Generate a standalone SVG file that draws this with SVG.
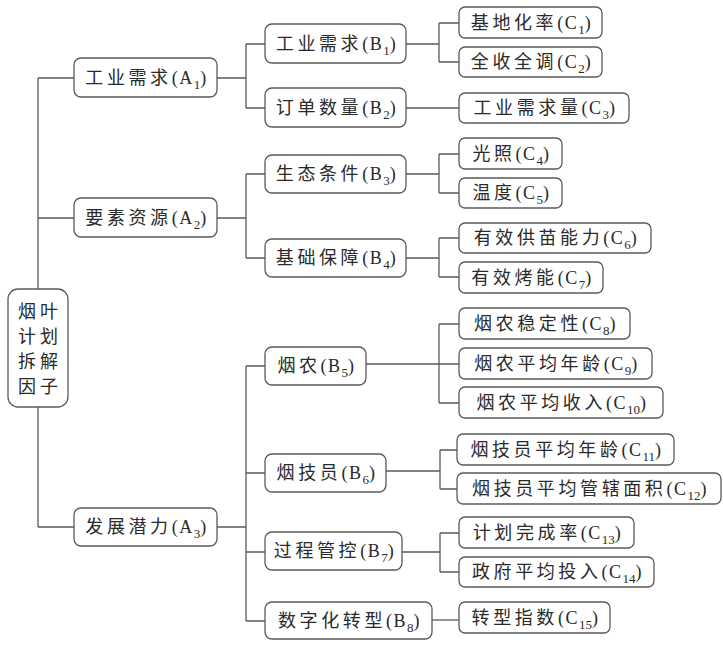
<svg xmlns="http://www.w3.org/2000/svg" width="723" height="645" viewBox="0 0 723 645">
<style>
.box{fill:#fff;stroke:#5a5a5a;stroke-width:1.3}
.ln{fill:none;stroke:#5a5a5a;stroke-width:1.3}
text{font-family:"Liberation Serif","Noto Sans CJK SC",serif;font-size:18px;fill:#2a2a2a;letter-spacing:1.5px;text-anchor:middle}
.c{letter-spacing:3.6px}
.sub{font-size:13px;letter-spacing:0}
.root{letter-spacing:0}
</style>
<rect width="723" height="645" fill="#fff"/>
<g id="connectors">
<path class="ln" d="M38,78V527M38,78H74M38,218H74M38,527H74"/>
<path class="ln" d="M217,78H246M246,44V108M246,44H265M246,108H265"/>
<path class="ln" d="M217,218H246M246,174V258M246,174H265M246,258H265"/>
<path class="ln" d="M217,527H246M246,366V621M246,366H265M246,473H265M246,552H265M246,621H265"/>
<path class="ln" d="M406,44H439M439,23V62M439,23H459M439,62H459"/>
<path class="ln" d="M406,108H459"/>
<path class="ln" d="M406,174H439M439,154V193M439,154H459M439,193H459"/>
<path class="ln" d="M406,258H439M439,238V277M439,238H459M439,277H459"/>
<path class="ln" d="M366,364H459M439,324V403M439,324H459M439,403H459"/>
<path class="ln" d="M386,471H440M440,450V489M440,450H457M440,489H457"/>
<path class="ln" d="M402,552H440M440,533V572M440,533H459M440,572H459"/>
<path class="ln" d="M432,620H459"/>
</g>
<g id="root"><rect class="box" x="8" y="289" width="60" height="118" rx="10"/>
<text class="root" x="27" y="318">烟</text><text class="root" x="49" y="318">叶</text>
<text class="root" x="27" y="343">计</text><text class="root" x="49" y="343">划</text>
<text class="root" x="27" y="368">拆</text><text class="root" x="49" y="368">解</text>
<text class="root" x="27" y="393">因</text><text class="root" x="49" y="393">子</text></g>
<g id="A1"><rect class="box" x="74" y="58" width="143" height="39" rx="7"/><text x="146.5" y="84"><tspan class="c">工业需求</tspan>(A<tspan class="sub" dy="5">1</tspan><tspan dy="-5">)</tspan></text></g>
<g id="A2"><rect class="box" x="74" y="198" width="143" height="39" rx="7"/><text x="146.5" y="224"><tspan class="c">要素资源</tspan>(A<tspan class="sub" dy="5">2</tspan><tspan dy="-5">)</tspan></text></g>
<g id="A3"><rect class="box" x="74" y="508" width="143" height="38" rx="7"/><text x="146.5" y="533"><tspan class="c">发展潜力</tspan>(A<tspan class="sub" dy="5">3</tspan><tspan dy="-5">)</tspan></text></g>
<g id="B1"><rect class="box" x="265" y="24" width="141" height="39" rx="7"/><text x="336.5" y="50"><tspan class="c">工业需求</tspan>(B<tspan class="sub" dy="5">1</tspan><tspan dy="-5">)</tspan></text></g>
<g id="B2"><rect class="box" x="265" y="88" width="141" height="39" rx="7"/><text x="336.5" y="114"><tspan class="c">订单数量</tspan>(B<tspan class="sub" dy="5">2</tspan><tspan dy="-5">)</tspan></text></g>
<g id="B3"><rect class="box" x="265" y="155" width="141" height="38" rx="7"/><text x="336.5" y="180"><tspan class="c">生态条件</tspan>(B<tspan class="sub" dy="5">3</tspan><tspan dy="-5">)</tspan></text></g>
<g id="B4"><rect class="box" x="265" y="239" width="141" height="38" rx="7"/><text x="336.5" y="264"><tspan class="c">基础保障</tspan>(B<tspan class="sub" dy="5">4</tspan><tspan dy="-5">)</tspan></text></g>
<g id="B5"><rect class="box" x="265" y="347" width="101" height="38" rx="7"/><text x="316.5" y="372"><tspan class="c">烟农</tspan>(B<tspan class="sub" dy="5">5</tspan><tspan dy="-5">)</tspan></text></g>
<g id="B6"><rect class="box" x="265" y="454" width="121" height="38" rx="7"/><text x="326.5" y="479"><tspan class="c">烟技员</tspan>(B<tspan class="sub" dy="5">6</tspan><tspan dy="-5">)</tspan></text></g>
<g id="B7"><rect class="box" x="265" y="532" width="137" height="38" rx="7"/><text x="334.5" y="557"><tspan class="c">过程管控</tspan>(B<tspan class="sub" dy="5">7</tspan><tspan dy="-5">)</tspan></text></g>
<g id="B8"><rect class="box" x="265" y="602" width="167" height="37" rx="7"/><text x="349.5" y="627"><tspan class="c">数字化转型</tspan>(B<tspan class="sub" dy="5">8</tspan><tspan dy="-5">)</tspan></text></g>
<g id="C1"><rect class="box" x="459" y="7" width="143" height="31" rx="6"/><text x="531.5" y="29"><tspan class="c">基地化率</tspan>(C<tspan class="sub" dy="5">1</tspan><tspan dy="-5">)</tspan></text></g>
<g id="C2"><rect class="box" x="459" y="47" width="143" height="30" rx="6"/><text x="531.5" y="68"><tspan class="c">全收全调</tspan>(C<tspan class="sub" dy="5">2</tspan><tspan dy="-5">)</tspan></text></g>
<g id="C3"><rect class="box" x="459" y="93" width="170" height="30" rx="6"/><text x="545" y="114"><tspan class="c">工业需求量</tspan>(C<tspan class="sub" dy="5">3</tspan><tspan dy="-5">)</tspan></text></g>
<g id="C4"><rect class="box" x="459" y="138" width="103" height="31" rx="6"/><text x="511.5" y="160"><tspan class="c">光照</tspan>(C<tspan class="sub" dy="5">4</tspan><tspan dy="-5">)</tspan></text></g>
<g id="C5"><rect class="box" x="459" y="178" width="103" height="30" rx="6"/><text x="511.5" y="199"><tspan class="c">温度</tspan>(C<tspan class="sub" dy="5">5</tspan><tspan dy="-5">)</tspan></text></g>
<g id="C6"><rect class="box" x="459" y="223" width="192" height="30" rx="6"/><text x="556" y="244"><tspan class="c">有效供苗能力</tspan>(C<tspan class="sub" dy="5">6</tspan><tspan dy="-5">)</tspan></text></g>
<g id="C7"><rect class="box" x="459" y="262" width="144" height="31" rx="6"/><text x="532" y="284"><tspan class="c">有效烤能</tspan>(C<tspan class="sub" dy="5">7</tspan><tspan dy="-5">)</tspan></text></g>
<g id="C8"><rect class="box" x="459" y="308" width="171" height="31" rx="6"/><text x="545.5" y="330"><tspan class="c">烟农稳定性</tspan>(C<tspan class="sub" dy="5">8</tspan><tspan dy="-5">)</tspan></text></g>
<g id="C9"><rect class="box" x="459" y="348" width="193" height="31" rx="6"/><text x="556.5" y="370"><tspan class="c">烟农平均年龄</tspan>(C<tspan class="sub" dy="5">9</tspan><tspan dy="-5">)</tspan></text></g>
<g id="C10"><rect class="box" x="459" y="387" width="204" height="31" rx="6"/><text x="562" y="409"><tspan class="c">烟农平均收入</tspan>(C<tspan class="sub" dy="5">10</tspan><tspan dy="-5">)</tspan></text></g>
<g id="C11"><rect class="box" x="457" y="434" width="217" height="31" rx="6"/><text x="566.5" y="456"><tspan class="c">烟技员平均年龄</tspan>(C<tspan class="sub" dy="5">11</tspan><tspan dy="-5">)</tspan></text></g>
<g id="C12"><rect class="box" x="457" y="473" width="264" height="31" rx="6"/><text x="590" y="495"><tspan class="c">烟技员平均管辖面积</tspan>(C<tspan class="sub" dy="5">12</tspan><tspan dy="-5">)</tspan></text></g>
<g id="C13"><rect class="box" x="459" y="517" width="175" height="31" rx="6"/><text x="547.5" y="539"><tspan class="c">计划完成率</tspan>(C<tspan class="sub" dy="5">13</tspan><tspan dy="-5">)</tspan></text></g>
<g id="C14"><rect class="box" x="459" y="557" width="195" height="30" rx="6"/><text x="557.5" y="578"><tspan class="c">政府平均投入</tspan>(C<tspan class="sub" dy="5">14</tspan><tspan dy="-5">)</tspan></text></g>
<g id="C15"><rect class="box" x="459" y="602" width="151" height="31" rx="6"/><text x="535.5" y="624"><tspan class="c">转型指数</tspan>(C<tspan class="sub" dy="5">15</tspan><tspan dy="-5">)</tspan></text></g>
</svg>
